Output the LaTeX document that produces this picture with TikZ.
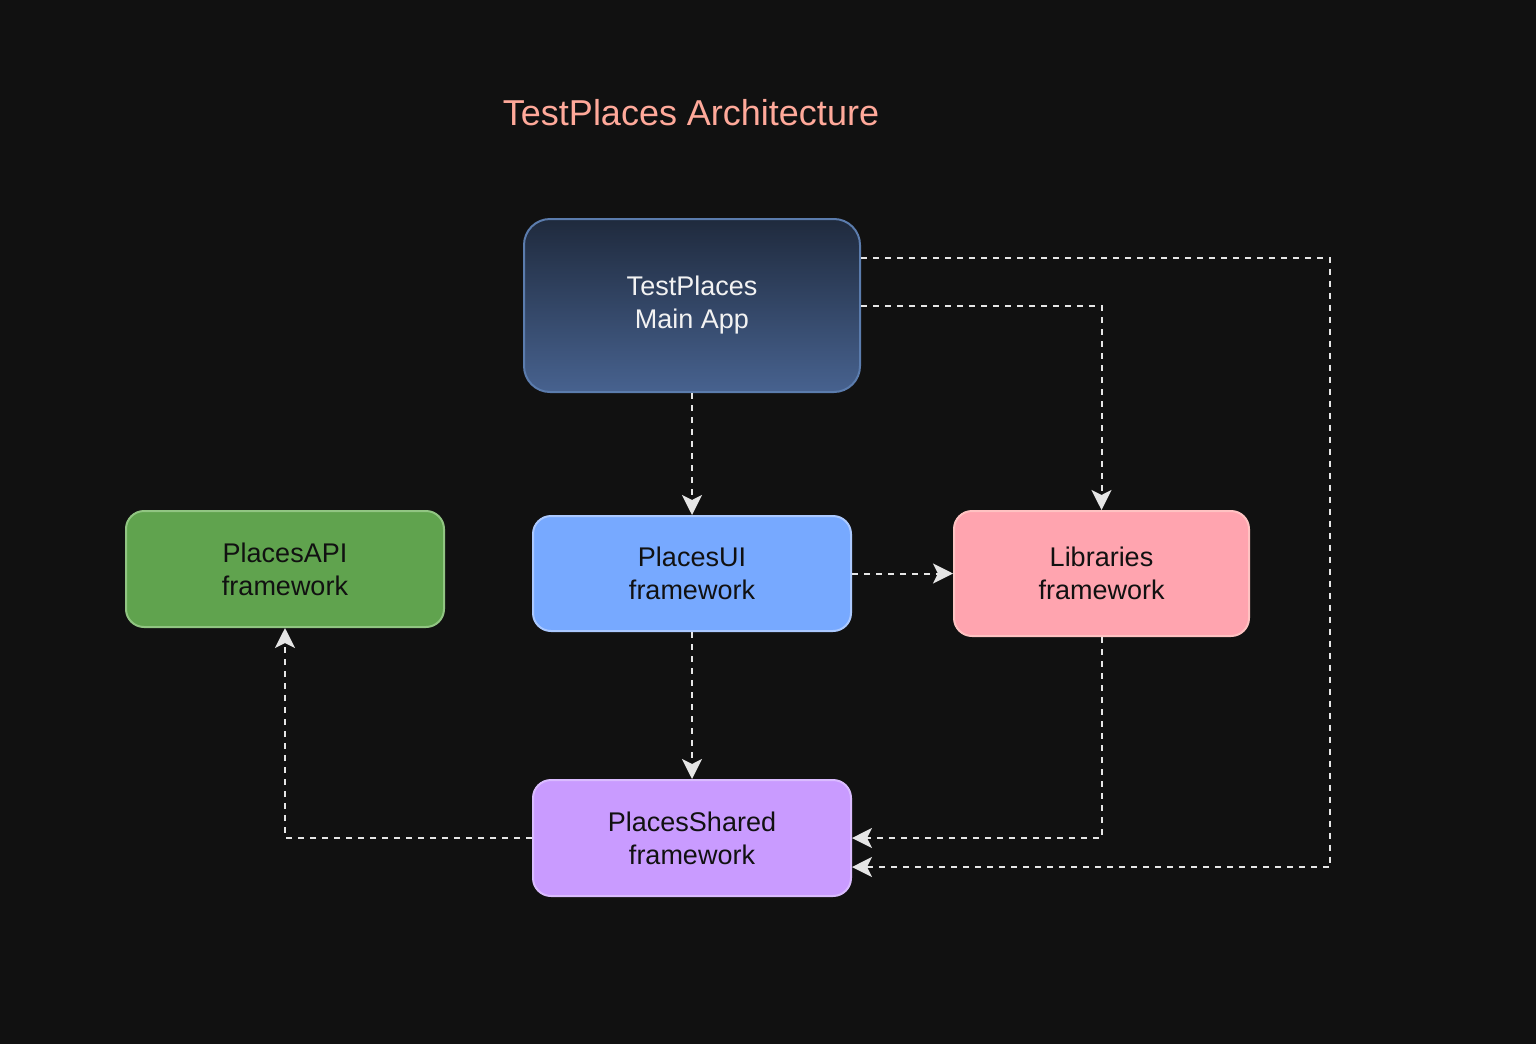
\documentclass[tikz,border=0pt]{standalone}
\usepackage{fontspec}
\setmainfont{Liberation Sans}
\usetikzlibrary{arrows.meta}
\definecolor{bg}{HTML}{111111}
\definecolor{titlec}{HTML}{FFA99A}
\definecolor{linec}{HTML}{E6E6E6}
\definecolor{maintop}{HTML}{1F2A3D}
\definecolor{mainbot}{HTML}{47628F}
\definecolor{mainbd}{HTML}{5B7CAD}
\definecolor{apifill}{HTML}{60A34E}
\definecolor{apibd}{HTML}{91C582}
\definecolor{uifill}{HTML}{77A9FF}
\definecolor{uibd}{HTML}{ABC9FF}
\definecolor{libfill}{HTML}{FFA4AF}
\definecolor{libbd}{HTML}{FFC2C2}
\definecolor{shfill}{HTML}{C99BFF}
\definecolor{shbd}{HTML}{DABBFF}
\definecolor{darktext}{HTML}{111111}
\begin{document}
\begin{tikzpicture}[x=1pt,y=-1pt,
  box/.style={rounded corners=18pt, line width=2pt, align=center, inner sep=0pt,
    font=\fontsize{27}{33}\selectfont, text=darktext},
  conn/.style={draw=linec, line width=2pt, dash pattern=on 6pt off 6pt,
    -{Stealth[length=20pt,width=20pt,inset=5pt,fill=linec]}}
]
\fill[bg] (0,0) rectangle (1536,1044);
\useasboundingbox (0,0) rectangle (1536,1044);

\node[text=titlec, font=\fontsize{36}{43}\selectfont] (title) at (691,113) {TestPlaces Architecture};

\node[box, rounded corners=26pt, draw=mainbd, top color=maintop, bottom color=mainbot,
  text=white!95!black, minimum width=336pt, minimum height=173pt] (main) at (692,305.5) {TestPlaces\\Main App};

\node[box, draw=apibd, fill=apifill, minimum width=318pt, minimum height=116pt] (api) at (285,569) {PlacesAPI\\framework};
\node[box, draw=uibd, fill=uifill, minimum width=318pt, minimum height=115pt] (ui) at (692,573.5) {PlacesUI\\framework};
\node[box, draw=libbd, fill=libfill, minimum width=295pt, minimum height=125pt] (lib) at (1101.5,573.5) {Libraries\\framework};
\node[box, draw=shbd, fill=shfill, minimum width=318pt, minimum height=116pt] (shared) at (692,838) {PlacesShared\\framework};

\draw[conn] (main.south) -- (ui.north);
\draw[conn] (main.east) -| (lib.north);
\draw[conn] ([yshift=48pt]main.east) -- (1330,257.5) -- (1330,867) -- ([yshift=-29pt]shared.east);
\draw[conn] (ui.east) -- (lib.west);
\draw[conn] (ui.south) -- (shared.north);
\draw[conn] (lib.south) |- (shared.east);
\draw[conn] (shared.west) -| (api.south);
\end{tikzpicture}
\end{document}
